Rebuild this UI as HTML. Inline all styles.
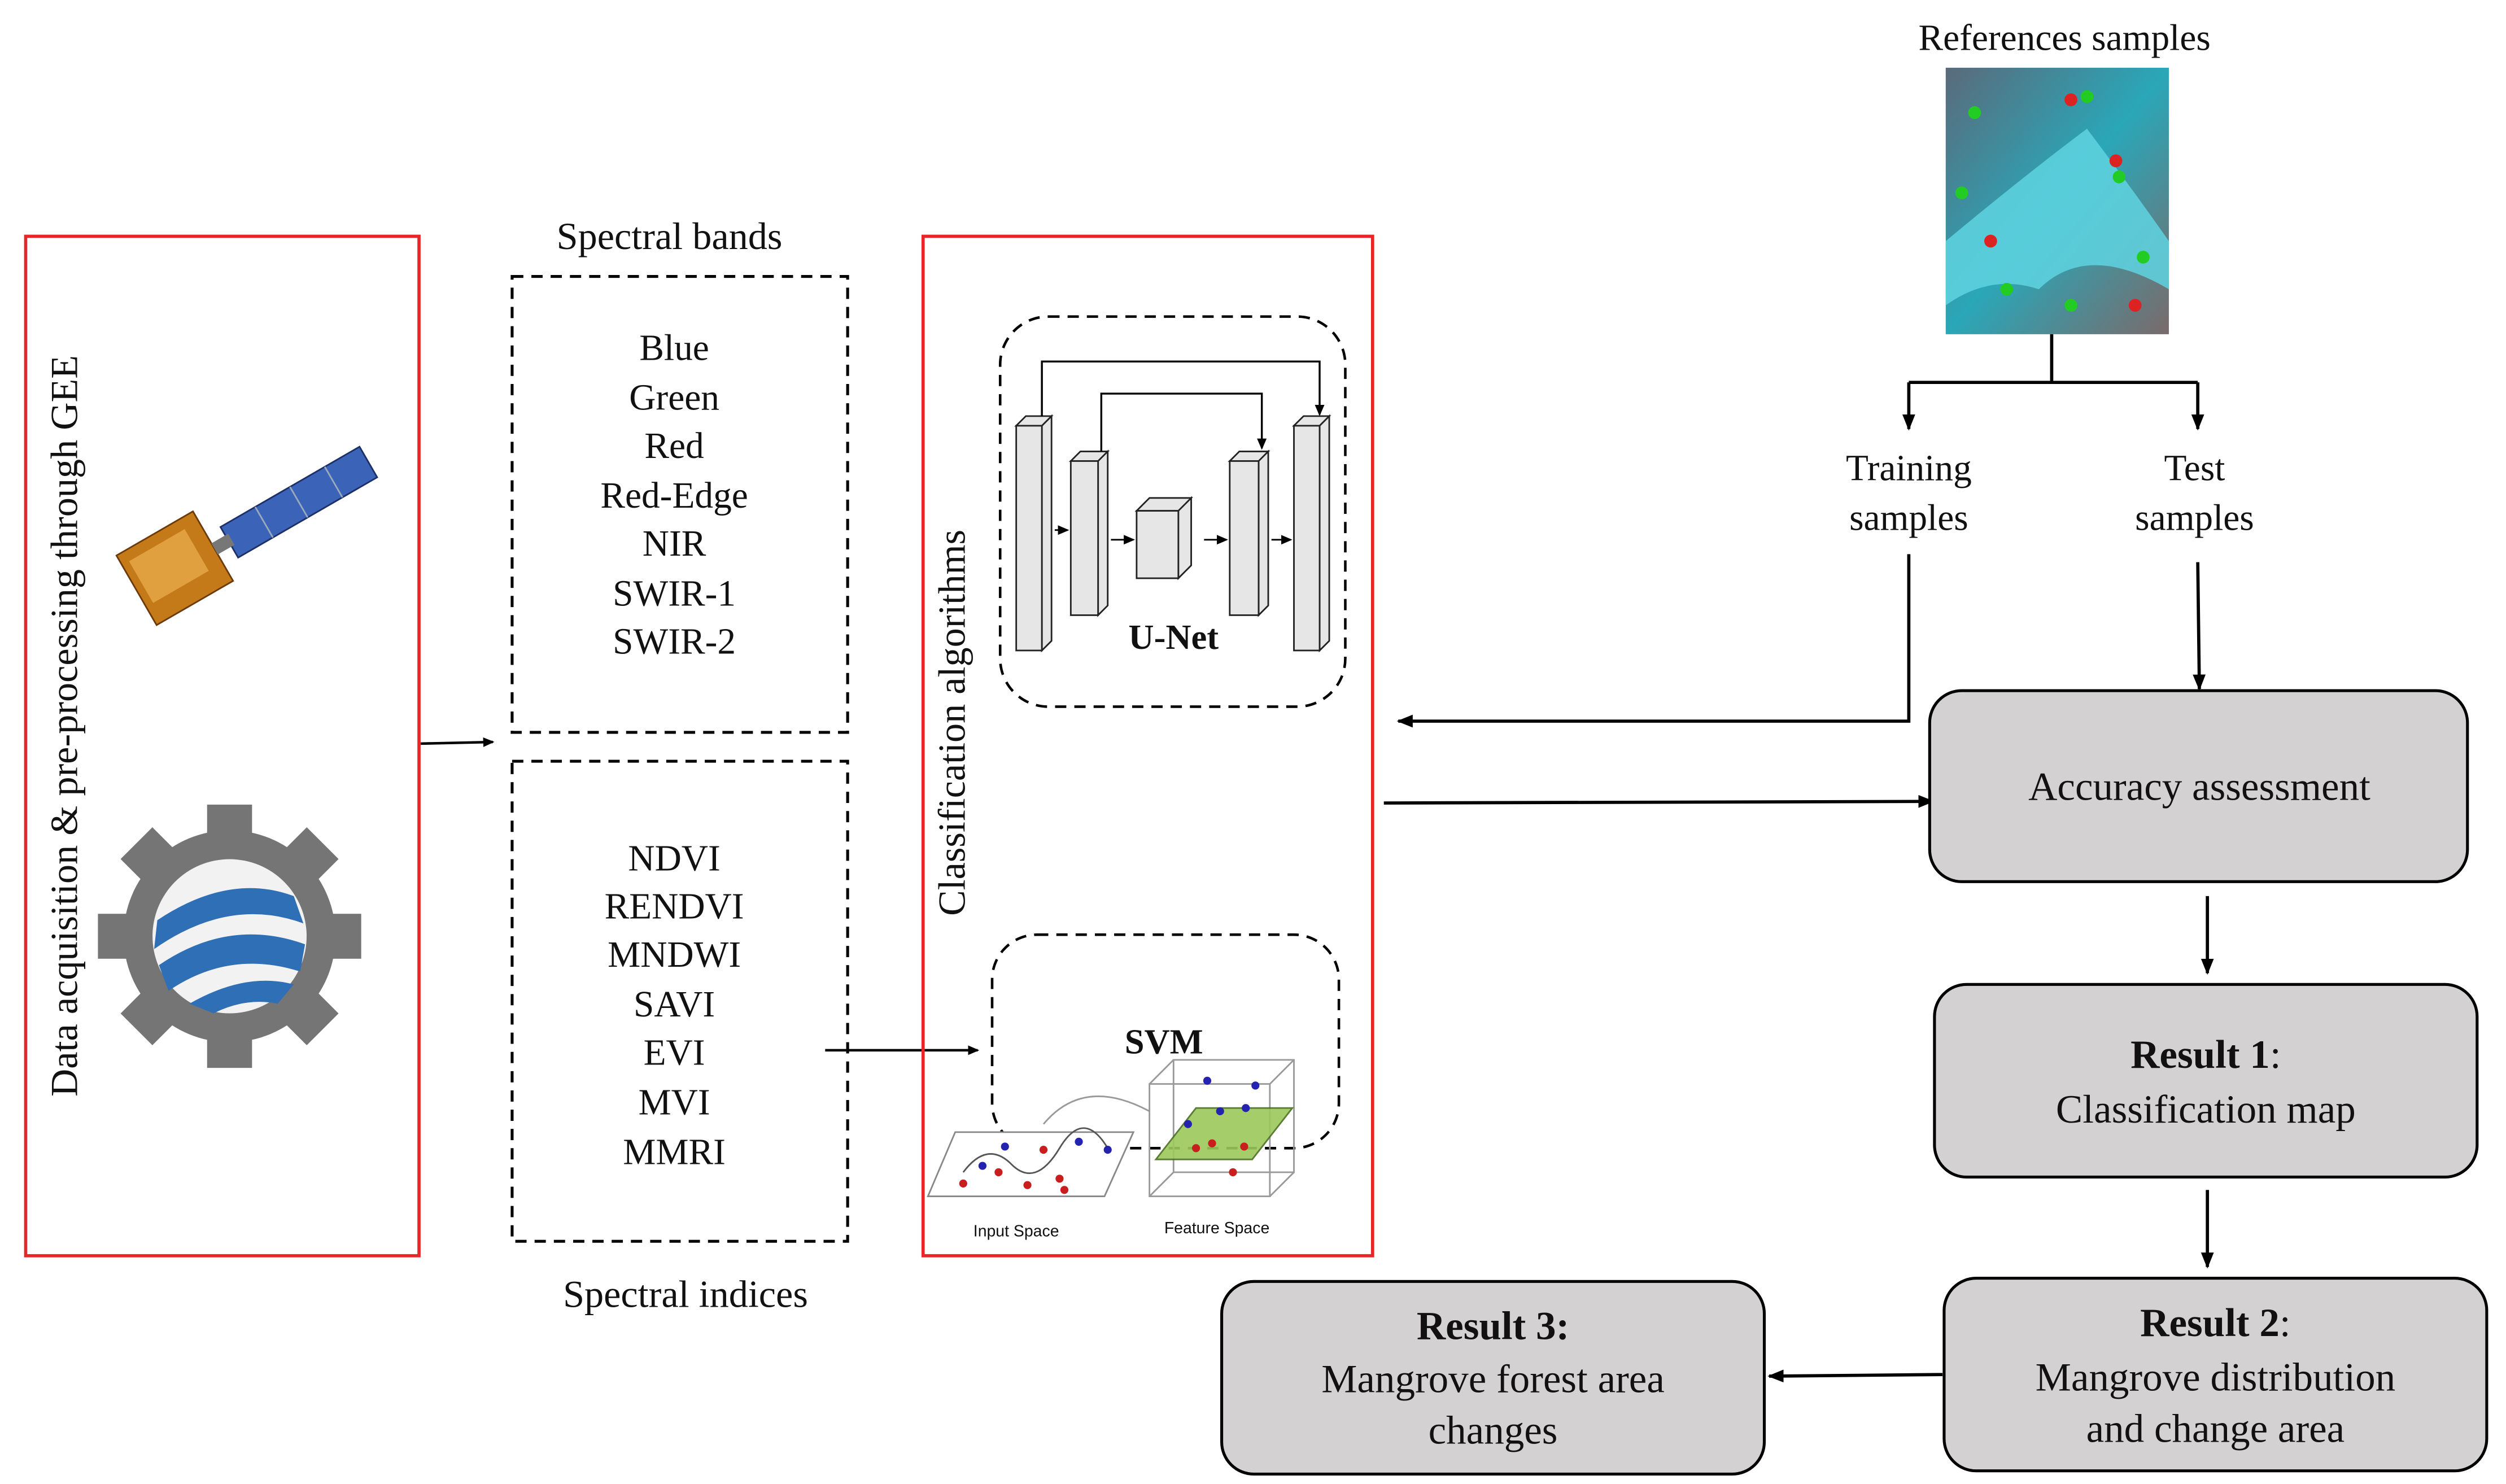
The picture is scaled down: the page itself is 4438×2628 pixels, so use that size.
<!DOCTYPE html>
<html><head><meta charset="utf-8"><style>
html,body{margin:0;padding:0;background:#fff;}
svg{display:block;}
text{font-family:"Liberation Serif",serif;fill:#111;}
</style></head><body>
<svg width="4438" height="2628" viewBox="0 0 1561 924" xmlns="http://www.w3.org/2000/svg">
<defs>
<marker id="ah" markerWidth="10" markerHeight="10" refX="9" refY="5" orient="auto" markerUnits="userSpaceOnUse">
<path d="M0,1 L10,5 L0,9 Z" fill="#000"/></marker>
<marker id="as" markerWidth="7" markerHeight="7" refX="6" refY="3.5" orient="auto" markerUnits="userSpaceOnUse">
<path d="M0,0.5 L7,3.5 L0,6.5 Z" fill="#000"/></marker>
<linearGradient id="gb" x1="0" y1="0" x2="1" y2="1"><stop offset="0" stop-color="#5a6a7a"/><stop offset="0.5" stop-color="#2aa7b8"/><stop offset="1" stop-color="#7a6a6a"/></linearGradient>
</defs>
<rect width="1561" height="924" fill="#fff"/>

<rect x="16" y="147" width="245" height="635" fill="none" stroke="#e8262a" stroke-width="2"/>
<text transform="translate(48,452) rotate(-90)" text-anchor="middle" font-size="24" font-family="Liberation Serif, serif">Data acquisition &amp; pre-processing  through GEE</text>
<g transform="translate(150,330) rotate(-30)">
<rect x="-10" y="-8" width="100" height="22" fill="#3b63b8" stroke="#1c2f66"/>
<line x1="15" y1="-8" x2="15" y2="14" stroke="#9ab" /><line x1="40" y1="-8" x2="40" y2="14" stroke="#9ab"/><line x1="65" y1="-8" x2="65" y2="14" stroke="#9ab"/>
<rect x="-75" y="-25" width="55" height="50" fill="#c57a1a" stroke="#6b3a08"/>
<rect x="-70" y="-18" width="40" height="30" fill="#e0a040"/>
<rect x="-20" y="-2" width="12" height="8" fill="#777"/>
</g>
<g transform="translate(143,583)">
<circle r="66" fill="#757575"/>
<g fill="#757575">
<rect x="-14" y="-82" width="28" height="24"/><rect x="-14" y="58" width="28" height="24"/>
<rect x="-82" y="-14" width="24" height="28"/><rect x="58" y="-14" width="24" height="28"/>
<rect x="-14" y="-82" width="28" height="24" transform="rotate(45)"/><rect x="-14" y="-82" width="28" height="24" transform="rotate(135)"/>
<rect x="-14" y="-82" width="28" height="24" transform="rotate(225)"/><rect x="-14" y="-82" width="28" height="24" transform="rotate(315)"/>
</g>
<circle r="48" fill="#f2f2f2"/>
<path d="M-45,-10 Q0,-40 40,-25 L46,-8 Q0,-25 -47,8 Z" fill="#2f6fb5"/>
<path d="M-44,18 Q0,-12 47,5 L44,22 Q0,8 -38,34 Z" fill="#2f6fb5"/>
<path d="M-25,42 Q10,22 40,30 L30,42 Q10,38 -10,48 Z" fill="#2f6fb5"/>
</g>
<line x1="262" y1="463" x2="307" y2="462" stroke="#000" stroke-width="1.6" marker-end="url(#as)"/>

<g font-family="Liberation Serif, serif">
<text x="417" y="155" text-anchor="middle" font-size="24">Spectral bands</text>
<g font-size="23" text-anchor="middle">
<text x="420" y="224">Blue</text><text x="420" y="255">Green</text><text x="420" y="285">Red</text>
<text x="420" y="316">Red-Edge</text><text x="420" y="346">NIR</text><text x="420" y="377">SWIR-1</text><text x="420" y="407">SWIR-2</text>
<text x="420" y="542">NDVI</text><text x="420" y="572">RENDVI</text><text x="420" y="602">MNDWI</text>
<text x="420" y="633">SAVI</text><text x="420" y="663">EVI</text><text x="420" y="694">MVI</text><text x="420" y="725">MMRI</text>
</g>
<text x="427" y="814" text-anchor="middle" font-size="24">Spectral indices</text>
</g>
<rect x="319" y="172" width="209" height="284" fill="none" stroke="#000" stroke-width="1.8" stroke-dasharray="7,5"/>
<rect x="319" y="474" width="209" height="299" fill="none" stroke="#000" stroke-width="1.8" stroke-dasharray="7,5"/>
<line x1="514" y1="654" x2="609" y2="654" stroke="#000" stroke-width="1.6" marker-end="url(#as)"/>

<rect x="575" y="147" width="280" height="635" fill="none" stroke="#e8262a" stroke-width="2"/>
<text transform="translate(601,450) rotate(-90)" text-anchor="middle" font-size="24" font-family="Liberation Serif, serif">Classification algorithms</text>

<rect x="623" y="197" width="215" height="243" rx="30" fill="none" stroke="#000" stroke-width="1.6" stroke-dasharray="7,5"/>
<g fill="#e6e6e6" stroke="#222" stroke-width="1">
<path d="M633,265 l6,-6 h16 l-6,6 Z M649,265 l6,-6 v140 l-6,6 Z"/><rect x="633" y="265" width="16" height="140"/>
<path d="M667,287 l6,-6 h17 l-6,6 Z M684,287 l6,-6 v96 l-6,6 Z"/><rect x="667" y="287" width="17" height="96"/>
<path d="M708,318 l8,-8 h26 l-8,8 Z M734,318 l8,-8 v42 l-8,8 Z"/><rect x="708" y="318" width="26" height="42"/>
<path d="M766,287 l6,-6 h18 l-6,6 Z M784,287 l6,-6 v96 l-6,6 Z"/><rect x="766" y="287" width="18" height="96"/>
<path d="M806,265 l6,-6 h16 l-6,6 Z M822,265 l6,-6 v140 l-6,6 Z"/><rect x="806" y="265" width="16" height="140"/>
</g>
<polyline points="649,259 649,225 822,225 822,258" fill="none" stroke="#000" stroke-width="1.2" marker-end="url(#as)"/>
<polyline points="686,281 686,245 786,245 786,279" fill="none" stroke="#000" stroke-width="1.2" marker-end="url(#as)"/>
<g stroke="#000" stroke-width="1"><line x1="657" y1="330" x2="665" y2="330" marker-end="url(#as)"/><line x1="692" y1="336" x2="706" y2="336" marker-end="url(#as)"/><line x1="750" y1="336" x2="764" y2="336" marker-end="url(#as)"/><line x1="792" y1="336" x2="804" y2="336" marker-end="url(#as)"/></g>
<text x="731" y="404" text-anchor="middle" font-size="22" font-weight="bold" font-family="Liberation Serif, serif">U-Net</text>

<rect x="618" y="582" width="216" height="133" rx="28" fill="none" stroke="#000" stroke-width="1.6" stroke-dasharray="7,5"/>
<text x="725" y="656" text-anchor="middle" font-size="22" font-weight="bold" font-family="Liberation Serif, serif">SVM</text>
<path d="M595,705 H706 L688,745 H578 Z" fill="#fff" stroke="#888"/>
<path d="M600,730 q15,-20 30,-5 t30,-10 t30,0" fill="none" stroke="#555"/>
<g fill="#c81e1e"><circle cx="600" cy="737" r="2.5"/><circle cx="622" cy="730" r="2.5"/><circle cx="640" cy="738" r="2.5"/><circle cx="660" cy="734" r="2.5"/><circle cx="650" cy="716" r="2.5"/><circle cx="663" cy="741" r="2.5"/></g>
<g fill="#2323b0"><circle cx="626" cy="714" r="2.5"/><circle cx="612" cy="726" r="2.5"/><circle cx="672" cy="711" r="2.5"/><circle cx="690" cy="716" r="2.5"/></g>
<path d="M650,700 q25,-30 66,-8" fill="none" stroke="#999"/>
<g fill="none" stroke="#999"><rect x="716" y="675" width="75" height="70"/><rect x="731" y="660" width="75" height="70"/>
<line x1="716" y1="675" x2="731" y2="660"/><line x1="791" y1="675" x2="806" y2="660"/><line x1="716" y1="745" x2="731" y2="730"/><line x1="791" y1="745" x2="806" y2="730"/></g>
<path d="M720,722 L745,690 H805 L780,722 Z" fill="#9cc95a" stroke="#4a7020" opacity="0.9"/>
<g fill="#2323b0"><circle cx="752" cy="673" r="2.5"/><circle cx="760" cy="692" r="2.5"/><circle cx="776" cy="690" r="2.5"/><circle cx="782" cy="676" r="2.5"/><circle cx="740" cy="700" r="2.5"/></g>
<g fill="#c81e1e"><circle cx="755" cy="712" r="2.5"/><circle cx="775" cy="714" r="2.5"/><circle cx="768" cy="730" r="2.5"/><circle cx="745" cy="715" r="2.5"/></g>
<text x="633" y="770" text-anchor="middle" font-size="10" style="font-family:'Liberation Sans',sans-serif">Input Space</text>
<text x="758" y="768" text-anchor="middle" font-size="10" style="font-family:'Liberation Sans',sans-serif">Feature Space</text>

<text x="1286" y="31" text-anchor="middle" font-size="23" font-family="Liberation Serif, serif">References samples</text>
<rect x="1212" y="42" width="139" height="166" fill="url(#gb)"/>
<path d="M1212,150 Q1260,110 1300,80 Q1330,120 1351,150 L1351,180 Q1300,150 1270,180 Q1240,170 1212,190 Z" fill="#5fd3e0" opacity="0.85"/>
<g fill="#22cc22"><circle cx="1230" cy="70" r="4"/><circle cx="1300" cy="60" r="4"/><circle cx="1320" cy="110" r="4"/><circle cx="1250" cy="180" r="4"/><circle cx="1290" cy="190" r="4"/><circle cx="1335" cy="160" r="4"/><circle cx="1222" cy="120" r="4"/></g>
<g fill="#dd2222"><circle cx="1290" cy="62" r="4"/><circle cx="1318" cy="100" r="4"/><circle cx="1240" cy="150" r="4"/><circle cx="1330" cy="190" r="4"/></g>

<g stroke="#000" stroke-width="2" fill="none">
<line x1="1278" y1="208" x2="1278" y2="238"/>
<line x1="1189" y1="238" x2="1369" y2="238"/>
<line x1="1189" y1="238" x2="1189" y2="267" marker-end="url(#ah)"/>
<line x1="1369" y1="238" x2="1369" y2="267" marker-end="url(#ah)"/>
<polyline points="1189,345 1189,449 871,449" marker-end="url(#ah)"/>
<line x1="1369" y1="350" x2="1370" y2="429" marker-end="url(#ah)"/>
<line x1="862" y1="500" x2="1204" y2="499" marker-end="url(#ah)"/>
<line x1="1375" y1="558" x2="1375" y2="606" marker-end="url(#ah)"/>
<line x1="1375" y1="741" x2="1375" y2="789" marker-end="url(#ah)"/>
<line x1="1210" y1="856" x2="1102" y2="857" marker-end="url(#ah)"/>
</g>
<g font-size="23" text-anchor="middle" font-family="Liberation Serif, serif">
<text x="1189" y="299">Training</text><text x="1189" y="330">samples</text>
<text x="1367" y="299">Test</text><text x="1367" y="330">samples</text>
</g>

<g fill="#d3d1d1" stroke="#000" stroke-width="1.8">
<rect x="1202" y="430" width="335" height="119" rx="20"/>
<rect x="1205" y="613" width="338" height="120" rx="20"/>
<rect x="1211" y="796" width="338" height="120" rx="20"/>
<rect x="761" y="798" width="338" height="120" rx="20"/>
</g>
<g font-size="25" text-anchor="middle" font-family="Liberation Serif, serif">
<text x="1370" y="498">Accuracy assessment</text>
<text x="1374" y="665"><tspan font-weight="bold">Result 1</tspan>:</text>
<text x="1374" y="699">Classification map</text>
<text x="1380" y="832"><tspan font-weight="bold">Result 2</tspan>:</text>
<text x="1380" y="866">Mangrove distribution</text>
<text x="1380" y="898">and change area</text>
<text x="930" y="834" font-weight="bold">Result 3:</text>
<text x="930" y="867">Mangrove forest area</text>
<text x="930" y="899">changes</text>
</g>
</svg>
</body></html>
